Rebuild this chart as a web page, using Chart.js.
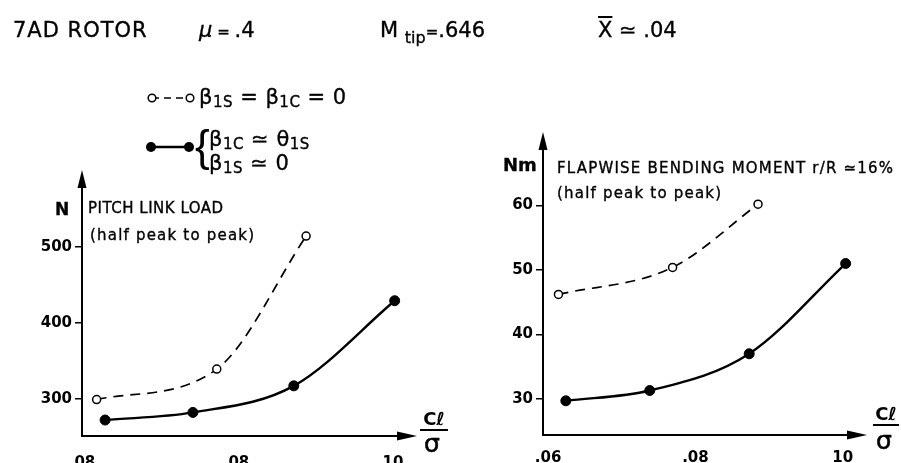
<!DOCTYPE html>
<html><head><meta charset="utf-8">
<script src="https://cdn.jsdelivr.net/npm/chart.js@4.4.1/dist/chart.umd.min.js"></script>
<style>
html,body{margin:0;padding:0;background:#fff;}
body{width:901px;height:463px;position:relative;overflow:hidden;font-family:"DejaVu Sans",sans-serif;color:#000;}
.t{position:absolute;white-space:nowrap;line-height:1;-webkit-text-stroke:0.35px #000;}
.s{font-size:15px;position:relative;top:3px;}
canvas{position:absolute;top:0;}
.frac{position:absolute;text-align:center;font-weight:bold;font-size:18px;line-height:1;}
.sig{position:absolute;text-align:center;font-size:25px;line-height:1;-webkit-text-stroke:0.6px #000;}
.lab{letter-spacing:1.2px;font-size:15px;}
</style></head><body>
<canvas id="c1" width="450" height="463" style="left:0"></canvas>
<canvas id="c2" width="451" height="463" style="left:450px"></canvas>

<div class="t" style="left:13px;top:20px;font-size:21px;letter-spacing:1px">7AD ROTOR</div>
<div class="t" style="left:199px;top:20px;font-size:21px"><i>μ</i><span style="font-size:15px"> = </span>.4</div>
<div class="t" style="left:380px;top:20px;font-size:21px">M <span style="font-size:16px;position:relative;top:6px">tip</span><span style="font-size:15px">=</span>.646</div>
<div class="t" style="left:598px;top:20px;font-size:21px"><span style="text-decoration:overline">X</span> ≃ .04</div>

<div class="t" style="left:199px;top:87px;font-size:21px;letter-spacing:0.5px">β<span class="s">1S</span> = β<span class="s">1C</span> = 0</div>
<div class="t" style="left:195px;top:124px;font-size:44px;font-family:'Liberation Sans';-webkit-text-stroke:0">{</div>
<div class="t" style="left:209px;top:129px;font-size:21px;letter-spacing:0.5px">β<span class="s">1C</span> ≃ θ<span class="s">1S</span></div>
<div class="t" style="left:209px;top:153px;font-size:21px;letter-spacing:0.5px">β<span class="s">1S</span> ≃ 0</div>

<div class="t" style="left:55px;top:201px;font-size:17px;font-weight:bold">N</div>
<div class="t" style="left:88px;top:201px;font-size:15px;letter-spacing:0.5px">PITCH LINK LOAD</div>
<div class="t lab" style="left:90px;top:228px">(half peak to peak)</div>

<div class="t" style="left:503px;top:156px;font-size:18px;font-weight:bold">Nm</div>
<div class="t lab" style="left:557px;top:161px">FLAPWISE BENDING MOMENT r/R ≃16%</div>
<div class="t lab" style="left:557px;top:186px">(half peak to peak)</div>

<div class="frac" style="left:420px;top:410px;width:28px;border-bottom:2px solid #000;padding-bottom:1px">Cℓ</div>
<div class="sig" style="left:420px;top:431px;width:24px">σ</div>
<div class="frac" style="left:873px;top:405px;width:26px;border-bottom:2px solid #000;padding-bottom:1px">Cℓ</div>
<div class="sig" style="left:873px;top:428px;width:22px">σ</div>

<script>
// ---- data ----
const xTickValues = [0.06, 0.08, 0.10];
const leftXTickLabels = ['.08', '.08', '.10'];
const rightXTickLabels = ['.06', '.08', '10'];
const leftYTicks = [300, 400, 500];
const rightYTicks = [30, 40, 50, 60];

const pitchOpenX = [0.0619, 0.0775, 0.0891];
const pitchOpenY = [299, 339, 514];
const pitchFilledX = [0.0630, 0.0744, 0.0875, 0.1006];
const pitchFilledY = [272, 282, 317, 429];

const flapOpenX = [0.0614, 0.0769, 0.0885];
const flapOpenY = [46.2, 50.4, 60.2];
const flapFilledX = [0.0624, 0.0738, 0.0873, 0.1004];
const flapFilledY = [29.7, 31.3, 37, 51];

function zip(xs, ys) { return xs.map((x, i) => ({x: x, y: ys[i]})); }

const axisArrows = {
  id: 'axisArrows',
  afterDraw(chart, args, opts) {
    const ctx = chart.ctx, a = chart.chartArea;
    ctx.save();
    ctx.strokeStyle = '#000'; ctx.fillStyle = '#000'; ctx.lineWidth = 2;
    ctx.beginPath(); ctx.moveTo(a.left, a.bottom + 1); ctx.lineTo(a.left, a.top + 12); ctx.stroke();
    ctx.beginPath(); ctx.moveTo(a.left, a.top); ctx.lineTo(a.left - 4.5, a.top + 18); ctx.lineTo(a.left + 4.5, a.top + 18); ctx.closePath(); ctx.fill();
    ctx.beginPath(); ctx.moveTo(a.left - 1, a.bottom); ctx.lineTo(a.right - 12, a.bottom); ctx.stroke();
    ctx.beginPath(); ctx.moveTo(a.right, a.bottom); ctx.lineTo(a.right - 20, a.bottom - 4.5); ctx.lineTo(a.right - 20, a.bottom + 4.5); ctx.closePath(); ctx.fill();
    if (opts.legend) {
      ctx.lineWidth = 1.6; ctx.setLineDash([7, 5]);
      ctx.beginPath(); ctx.moveTo(152, 98); ctx.lineTo(190, 98); ctx.stroke();
      ctx.setLineDash([]);
      [152, 190].forEach(x => { ctx.beginPath(); ctx.arc(x, 98, 3.8, 0, Math.PI * 2); ctx.fillStyle = '#fff'; ctx.fill(); ctx.lineWidth = 1.5; ctx.stroke(); });
      ctx.lineWidth = 2.4; ctx.fillStyle = '#000';
      ctx.beginPath(); ctx.moveTo(151, 147); ctx.lineTo(189, 147); ctx.stroke();
      [151, 189].forEach(x => { ctx.beginPath(); ctx.arc(x, 147, 5, 0, Math.PI * 2); ctx.fill(); });
    }
    ctx.restore();
  }
};

const tickFont = {family: 'DejaVu Sans', size: 15, weight: 'bold'};

function makeChart(id, c) {
  return new Chart(document.getElementById(id), {
    type: 'scatter',
    data: {datasets: [
      {data: zip(c.openX, c.openY), showLine: true, borderColor: '#000', borderWidth: 1.7, borderDash: [10, 7],
       cubicInterpolationMode: 'monotone',
       pointRadius: 4, pointBackgroundColor: '#fff', pointBorderColor: '#000', pointBorderWidth: 1.5},
      {data: zip(c.fillX, c.fillY), showLine: true, borderColor: '#000', borderWidth: 2.4,
       cubicInterpolationMode: 'monotone',
       pointRadius: 5, pointBackgroundColor: '#000', pointBorderColor: '#000', pointBorderWidth: 1}
    ]},
    options: {
      responsive: false, animation: false, devicePixelRatio: 1,
      layout: {padding: {top: c.padTop, right: c.padRight, bottom: 0, left: 0}},
      plugins: {legend: {display: false}, tooltip: {enabled: false}, axisArrows: {legend: c.legend}},
      scales: {
        x: {
          type: 'linear', min: c.xMin, max: c.xMax,
          afterBuildTicks: s => { s.ticks = xTickValues.map(v => ({value: v})); },
          afterFit: s => { s.height = c.xHeight; },
          grid: {display: false}, border: {display: false},
          ticks: {callback: v => c.xLabels[xTickValues.indexOf(v)], font: tickFont, color: '#000', padding: c.xPad, maxRotation: 0, autoSkip: false}
        },
        y: {
          type: 'linear', min: c.yMin, max: c.yMax,
          afterBuildTicks: s => { s.ticks = c.yTicks.map(v => ({value: v})); },
          afterFit: s => { s.width = c.yWidth; },
          grid: {drawOnChartArea: false, drawTicks: true, tickLength: 7, color: '#000', lineWidth: 1.5},
          border: {display: false},
          ticks: {font: tickFont, color: '#000', padding: 3, autoSkip: false}
        }
      }
    },
    plugins: [axisArrows]
  });
}

makeChart('c1', {openX: pitchOpenX, openY: pitchOpenY, fillX: pitchFilledX, fillY: pitchFilledY,
  padTop: 170, padRight: 33, xMin: 0.06, xMax: 0.1035, yMin: 251, yMax: 601,
  xHeight: 27, yWidth: 82, xPad: 10, xLabels: leftXTickLabels, yTicks: leftYTicks, legend: true});
makeChart('c2', {openX: flapOpenX, openY: flapOpenY, fillX: flapFilledX, fillY: flapFilledY,
  padTop: 132, padRight: 34, xMin: 0.0593, xMax: 0.1033, yMin: 24.4, yMax: 71.4,
  xHeight: 28, yWidth: 93, xPad: 6, xLabels: rightXTickLabels, yTicks: rightYTicks, legend: false});
</script>
</body></html>
